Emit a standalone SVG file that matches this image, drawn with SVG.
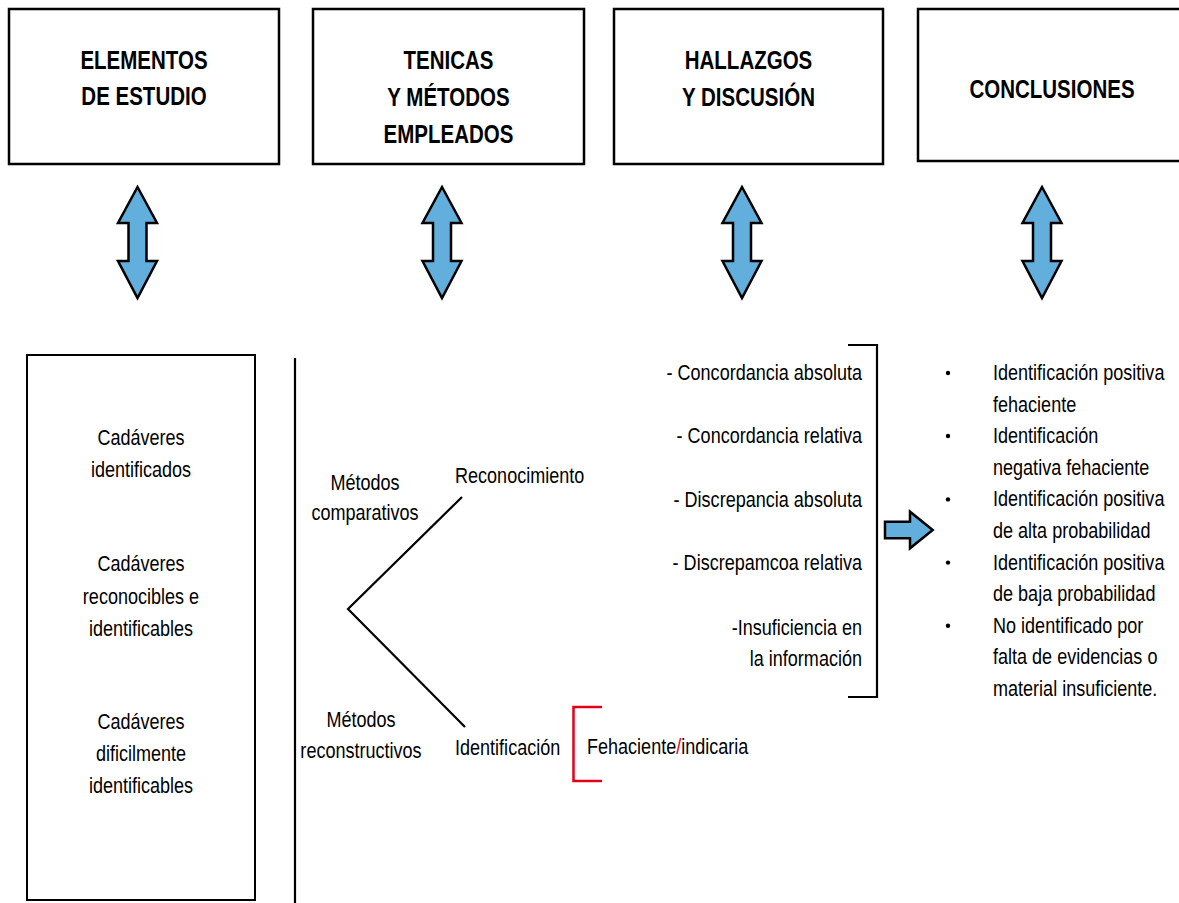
<svg xmlns="http://www.w3.org/2000/svg" width="1179" height="903" viewBox="0 0 1179 903">
  <style>
    .box { fill: #ffffff; stroke: #000000; stroke-width: 2.5; }
    .frame { fill: none; stroke: #000000; stroke-width: 2; }
    .head { font-family: "Liberation Sans", Arial, sans-serif; font-weight: bold; font-size: 25px; fill: #000000; text-anchor: middle; }
    .body { font-family: "Liberation Sans", Arial, sans-serif; font-size: 22px; fill: #000000; }
    .mid { text-anchor: middle; }
    .end { text-anchor: end; }
    .dbl { fill: #62AEDD; stroke: #000000; stroke-width: 2.5; stroke-linejoin: miter; }
    .line { fill: none; stroke: #000000; stroke-width: 2.2; }
    .red { fill: none; stroke: #E2001A; stroke-width: 2.5; }
  </style>
  <defs>
    <!-- vertical two-headed block arrow, centred on x=0 -->
    <polygon id="dblArrow" class="dbl" points="0,187 19.5,223 9,223 9,261 19.5,261 0,298 -19.5,261 -9,261 -9,223 -19.5,223"/>
  </defs>

  <rect width="1179" height="903" fill="#ffffff"/>

  <!-- column headers (type narrowed horizontally to a condensed width) -->
  <g id="box-elementos">
    <rect class="box" x="9" y="9" width="270" height="155"/>
    <text class="head" transform="translate(144 69) scale(0.82 1)">ELEMENTOS</text>
    <text class="head" transform="translate(144 105) scale(0.82 1)">DE ESTUDIO</text>
  </g>
  <g id="box-tecnicas">
    <rect class="box" x="313" y="9" width="271" height="155"/>
    <text class="head" transform="translate(448.5 69) scale(0.82 1)">TENICAS</text>
    <text class="head" transform="translate(448.5 106) scale(0.82 1)">Y MÉTODOS</text>
    <text class="head" transform="translate(448.5 143) scale(0.82 1)">EMPLEADOS</text>
  </g>
  <g id="box-hallazgos">
    <rect class="box" x="614" y="9" width="269" height="155"/>
    <text class="head" transform="translate(748.5 69) scale(0.82 1)">HALLAZGOS</text>
    <text class="head" transform="translate(748.5 106) scale(0.82 1)">Y DISCUSIÓN</text>
  </g>
  <g id="box-conclusiones">
    <rect class="box" x="918" y="9" width="270" height="152"/>
    <text class="head" transform="translate(1052 98) scale(0.82 1)">CONCLUSIONES</text>
  </g>

  <!-- connectors -->
  <g id="connectors">
    <use href="#dblArrow" x="137.5"/>
    <use href="#dblArrow" x="442"/>
    <use href="#dblArrow" x="742"/>
    <use href="#dblArrow" x="1042"/>
    <!-- branch of methods -->
    <polyline class="line" points="462,497 348,609 465,727"/>
    <!-- bracket closing the findings list -->
    <polyline class="line" points="848,345 877,345 877,697 848,697"/>
    <!-- arrow to conclusions -->
    <polygon class="dbl" points="885,521.7 910,521.7 910,511.7 932.7,530 910,548.3 910,538.3 885,538.3"/>
    <!-- red bracket before the qualifier -->
    <polyline class="red" points="602,707 573.5,707 573.5,781 602,781"/>
  </g>

  <!-- study elements -->
  <g id="elementos">
    <rect class="frame" x="27" y="355" width="228" height="545"/>
    <text class="body mid" transform="translate(141 445) scale(0.82 1)">Cadáveres</text>
    <text class="body mid" transform="translate(141 477) scale(0.82 1)">identificados</text>
    <text class="body mid" transform="translate(141 571) scale(0.82 1)">Cadáveres</text>
    <text class="body mid" transform="translate(141 604) scale(0.82 1)">reconocibles e</text>
    <text class="body mid" transform="translate(141 636) scale(0.82 1)">identificables</text>
    <text class="body mid" transform="translate(141 729) scale(0.82 1)">Cadáveres</text>
    <text class="body mid" transform="translate(141 761) scale(0.82 1)">dificilmente</text>
    <text class="body mid" transform="translate(141 793) scale(0.82 1)">identificables</text>
  </g>

  <!-- methods -->
  <g id="metodos">
    <line class="line" x1="295" y1="358" x2="295" y2="903"/>
    <text class="body mid" transform="translate(365 490) scale(0.82 1)">Métodos</text>
    <text class="body mid" transform="translate(365 520) scale(0.82 1)">comparativos</text>
    <text class="body mid" transform="translate(361 727) scale(0.82 1)">Métodos</text>
    <text class="body mid" transform="translate(361 758) scale(0.82 1)">reconstructivos</text>
    <text class="body" transform="translate(455 483) scale(0.82 1)">Reconocimiento</text>
    <text class="body" transform="translate(455 755) scale(0.82 1)">Identificación</text>
    <text class="body" transform="translate(587 754) scale(0.82 1)">Fehaciente<tspan fill="#E2001A">/</tspan>indicaria</text>
  </g>

  <!-- findings -->
  <g id="hallazgos">
    <text class="body end" transform="translate(862 380) scale(0.82 1)">- Concordancia absoluta</text>
    <text class="body end" transform="translate(862 443) scale(0.82 1)">- Concordancia relativa</text>
    <text class="body end" transform="translate(862 507) scale(0.82 1)">- Discrepancia absoluta</text>
    <text class="body end" transform="translate(862 570) scale(0.82 1)">- Discrepamcoa relativa</text>
    <text class="body end" transform="translate(862 635) scale(0.82 1)">-Insuficiencia en</text>
    <text class="body end" transform="translate(862 666) scale(0.82 1)">la información</text>
  </g>

  <!-- conclusions -->
  <g id="conclusiones">
    <circle cx="948" cy="373" r="2.2"/>
    <circle cx="948" cy="436" r="2.2"/>
    <circle cx="948" cy="499.4" r="2.2"/>
    <circle cx="948" cy="562.6" r="2.2"/>
    <circle cx="948" cy="625.8" r="2.2"/>
    <text class="body" transform="translate(993 380) scale(0.82 1)">Identificación positiva</text>
    <text class="body" transform="translate(993 411.6) scale(0.82 1)">fehaciente</text>
    <text class="body" transform="translate(993 443.2) scale(0.82 1)">Identificación</text>
    <text class="body" transform="translate(993 474.8) scale(0.82 1)">negativa fehaciente</text>
    <text class="body" transform="translate(993 506.4) scale(0.82 1)">Identificación positiva</text>
    <text class="body" transform="translate(993 538) scale(0.82 1)">de alta probabilidad</text>
    <text class="body" transform="translate(993 569.6) scale(0.82 1)">Identificación positiva</text>
    <text class="body" transform="translate(993 601.2) scale(0.82 1)">de baja probabilidad</text>
    <text class="body" transform="translate(993 632.8) scale(0.82 1)">No identificado por</text>
    <text class="body" transform="translate(993 664.4) scale(0.82 1)">falta de evidencias o</text>
    <text class="body" transform="translate(993 696) scale(0.82 1)">material insuficiente.</text>
  </g>
</svg>
